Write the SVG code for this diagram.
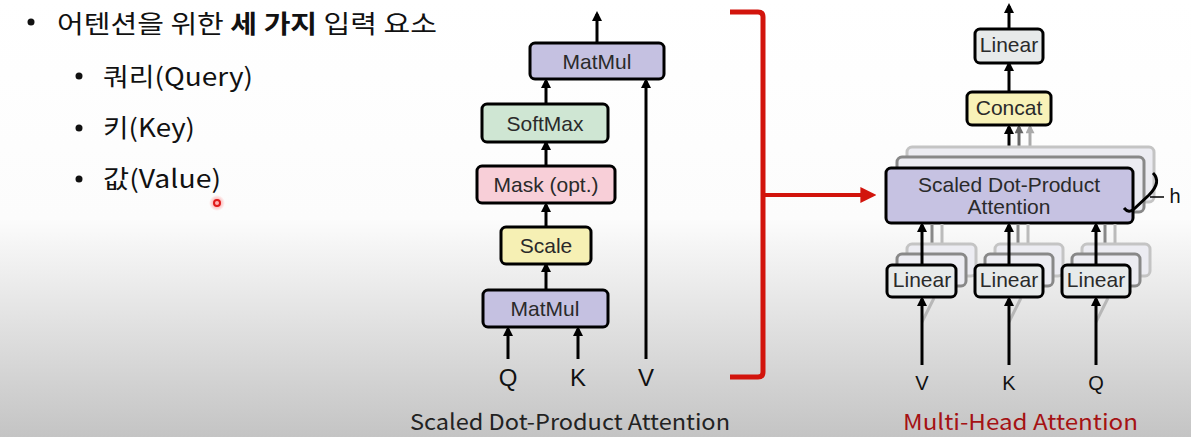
<svg xmlns="http://www.w3.org/2000/svg" width="1191" height="437" viewBox="0 0 1191 437">
<defs>
<linearGradient id="bg" x1="0" y1="0" x2="0" y2="1">
<stop offset="0" stop-color="#ffffff"/>
<stop offset="0.5" stop-color="#fcfcfc"/>
<stop offset="1" stop-color="#c4c4c4"/>
</linearGradient>
<marker id="ah" viewBox="0 0 10 10" refX="7" refY="5" markerWidth="11" markerHeight="10" markerUnits="userSpaceOnUse" orient="auto">
<path d="M0,0 L10,5 L0,10 z" fill="#000"/>
</marker>
<marker id="ahg" viewBox="0 0 10 10" refX="7" refY="5" markerWidth="10" markerHeight="9" markerUnits="userSpaceOnUse" orient="auto">
<path d="M0,0 L10,5 L0,10 z" fill="#666"/>
</marker>
<marker id="ahl" viewBox="0 0 10 10" refX="7" refY="5" markerWidth="10" markerHeight="9" markerUnits="userSpaceOnUse" orient="auto">
<path d="M0,0 L10,5 L0,10 z" fill="#aaa"/>
</marker>
<marker id="ahr" viewBox="0 0 10 10" refX="6" refY="5" markerWidth="16" markerHeight="16" markerUnits="userSpaceOnUse" orient="auto">
<path d="M0,0 L10,5 L0,10 z" fill="#d2140c"/>
</marker>
<radialGradient id="glow">
<stop offset="0" stop-color="#ff3030" stop-opacity="0.6"/>
<stop offset="1" stop-color="#ff3030" stop-opacity="0"/>
</radialGradient>
</defs>
<style>
.kr{font-family:"Noto Sans CJK KR","Noto Sans",sans-serif;fill:#111;font-size:25px}
.lb{font-family:"Liberation Sans",Arial,sans-serif;fill:#2a2a2a;font-size:21px;text-anchor:middle}
.io{font-family:"Liberation Sans",Arial,sans-serif;fill:#111;font-size:24px;text-anchor:middle}
.io2{font-family:"Liberation Sans",Arial,sans-serif;fill:#111;font-size:20px;text-anchor:middle}
.cap{font-family:"Noto Sans CJK KR","Open Sans",sans-serif;font-size:22px}
.box{stroke:#000;stroke-width:3}
.ghost{stroke-width:3;fill:#ececf2}
.ar{stroke:#000;stroke-width:3;fill:none;marker-end:url(#ah)}
</style>
<rect width="1191" height="437" fill="url(#bg)"/>

<g id="bullets">
<circle cx="31" cy="22" r="3.5" fill="#111"/>
<text class="kr" x="57" y="33" textLength="380" lengthAdjust="spacingAndGlyphs">어텐션을 위한 <tspan font-weight="bold">세 가지</tspan> 입력 요소</text>
<circle cx="79" cy="76" r="3.5" fill="#111"/>
<text class="kr" x="103" y="86" textLength="150" lengthAdjust="spacingAndGlyphs">쿼리(Query)</text>
<circle cx="79" cy="128" r="3.5" fill="#111"/>
<text class="kr" x="103" y="137" textLength="92" lengthAdjust="spacingAndGlyphs">키(Key)</text>
<circle cx="79" cy="179" r="3.5" fill="#111"/>
<text class="kr" x="103" y="188" textLength="118" lengthAdjust="spacingAndGlyphs">값(Value)</text>
</g>
<g id="cursor">
<circle cx="217" cy="203" r="8" fill="url(#glow)"/>
<circle cx="217" cy="203" r="3" fill="#ffb0b0" stroke="#e01818" stroke-width="2"/>
</g>

<g id="connectors">
<line class="ar" x1="597" y1="43" x2="597" y2="14"/>
<line class="ar" x1="546" y1="104" x2="546" y2="81"/>
<line class="ar" x1="546" y1="166" x2="546" y2="143"/>
<line class="ar" x1="546" y1="227" x2="546" y2="205"/>
<line class="ar" x1="546" y1="290" x2="546" y2="265"/>
<line class="ar" x1="508" y1="359" x2="508" y2="329"/>
<line class="ar" x1="578" y1="359" x2="578" y2="329"/>
<line class="ar" x1="646" y1="359" x2="646" y2="81"/>
<path d="M730,12 L758,12 Q763,12 763,17 L763,372 Q763,377 758,377 L730,377" fill="none" stroke="#d2140c" stroke-width="5"/>
<line x1="763" y1="195" x2="870" y2="195" stroke="#d2140c" stroke-width="4" marker-end="url(#ahr)"/>
<line class="ar" x1="1009" y1="29" x2="1009" y2="6"/>
<line class="ar" x1="1009" y1="92" x2="1009" y2="64"/>
<line x1="1030" y1="147" x2="1030" y2="127" stroke="#aaa" stroke-width="3" marker-end="url(#ahl)"/>
<line x1="1019" y1="157" x2="1019" y2="127" stroke="#666" stroke-width="3" marker-end="url(#ahg)"/>
<line class="ar" x1="1009" y1="168" x2="1009" y2="127"/>
</g>

<g id="sdpa-matmul-top">
<rect class="box" x="530" y="43" width="134" height="36" rx="5" fill="#c5c1e1"/>
<text class="lb" x="597" y="69">MatMul</text>
</g>
<g id="softmax">
<rect class="box" x="482" y="104" width="126" height="38" rx="5" fill="#cfe6d3"/>
<text class="lb" x="545" y="131">SoftMax</text>
</g>
<g id="mask">
<rect class="box" x="477" y="166" width="138" height="37" rx="5" fill="#f8cfd8"/>
<text class="lb" x="546" y="192">Mask (opt.)</text>
</g>
<g id="scale">
<rect class="box" x="501" y="227" width="90" height="37" rx="5" fill="#f6f0b4"/>
<text class="lb" x="546" y="253">Scale</text>
</g>
<g id="sdpa-matmul-bottom">
<rect class="box" x="483" y="290" width="125" height="37" rx="5" fill="#c5c1e1"/>
<text class="lb" x="545" y="316">MatMul</text>
</g>
<g id="sdpa-inputs">
<text class="io" x="508" y="386">Q</text>
<text class="io" x="578" y="386">K</text>
<text class="io" x="646" y="386">V</text>
</g>
<text class="cap" x="410" y="430" fill="#222" textLength="320" lengthAdjust="spacingAndGlyphs">Scaled Dot-Product Attention</text>

<g id="mha-linear-top">
<rect class="box" x="975" y="29" width="68" height="34" rx="5" fill="#e7eaea"/>
<text class="lb" x="1009" y="52" font-size="17.5">Linear</text>
</g>
<g id="concat">
<rect class="box" x="967" y="92" width="84" height="33" rx="5" fill="#f8f2b8"/>
<text class="lb" x="1009" y="115" font-size="18">Concat</text>
</g>

<g id="sdpa-heads">
<rect class="ghost" x="907" y="147" width="247" height="55" rx="5" stroke="#c4c4c4" fill="#eeeef4"/>
<rect class="ghost" x="897" y="157" width="247" height="55" rx="5" stroke="#888" fill="#d9d6ec"/>
<rect class="box" x="886" y="168" width="247" height="55" rx="5" fill="#c6c2e2"/>
<text class="lb" x="1009" y="192" font-size="18.5">Scaled Dot-Product</text>
<text class="lb" x="1009" y="214" font-size="18.5">Attention</text>
<path d="M1153,173 Q1162,182 1149,195 L1134,209 Q1129,214 1124,208" fill="none" stroke="#000" stroke-width="3"/>
<line x1="1150" y1="197" x2="1164" y2="197" stroke="#000" stroke-width="1.5"/>
<text class="io2" x="1175" y="203" font-size="17">h</text>
</g>

<g id="head-links">
<line x1="942" y1="245" x2="942" y2="224" stroke="#bbb" stroke-width="3"/>
<line x1="932" y1="255" x2="932" y2="224" stroke="#888" stroke-width="3"/>
<line x1="1028" y1="245" x2="1028" y2="224" stroke="#bbb" stroke-width="3"/>
<line x1="1018" y1="255" x2="1018" y2="224" stroke="#888" stroke-width="3"/>
<line x1="1115" y1="245" x2="1115" y2="224" stroke="#bbb" stroke-width="3"/>
<line x1="1105" y1="255" x2="1105" y2="224" stroke="#888" stroke-width="3"/>
<line x1="922" y1="322" x2="934" y2="298" stroke="#999" stroke-width="3" opacity="0.6"/>
<line x1="1009" y1="322" x2="1021" y2="298" stroke="#999" stroke-width="3" opacity="0.6"/>
<line x1="1096" y1="322" x2="1108" y2="298" stroke="#999" stroke-width="3" opacity="0.6"/>
</g>

<g id="linear-v">
<rect class="ghost" x="907" y="244" width="69" height="32" rx="5" stroke="#c4c4c4" fill="#f0f0f0"/>
<rect class="ghost" x="897" y="254" width="69" height="32" rx="5" stroke="#888" fill="#e6e6e6"/>
<rect class="box" x="887" y="265" width="69" height="32" rx="5" fill="#e7eaea"/>
<text class="lb" x="922" y="287" font-size="17.5">Linear</text>
</g>
<g id="linear-k">
<rect class="ghost" x="995" y="244" width="68" height="32" rx="5" stroke="#c4c4c4" fill="#f0f0f0"/>
<rect class="ghost" x="985" y="254" width="68" height="32" rx="5" stroke="#888" fill="#e6e6e6"/>
<rect class="box" x="975" y="265" width="68" height="32" rx="5" fill="#e7eaea"/>
<text class="lb" x="1009" y="287" font-size="17.5">Linear</text>
</g>
<g id="linear-q">
<rect class="ghost" x="1082" y="244" width="68" height="32" rx="5" stroke="#c4c4c4" fill="#f0f0f0"/>
<rect class="ghost" x="1072" y="254" width="68" height="32" rx="5" stroke="#888" fill="#e6e6e6"/>
<rect class="box" x="1062" y="265" width="68" height="32" rx="5" fill="#e7eaea"/>
<text class="lb" x="1096" y="287" font-size="17.5">Linear</text>
</g>

<g id="mha-connectors">
<line class="ar" x1="922" y1="265" x2="922" y2="225"/>
<line class="ar" x1="1009" y1="265" x2="1009" y2="225"/>
<line class="ar" x1="1096" y1="265" x2="1096" y2="225"/>
<line class="ar" x1="922" y1="365" x2="922" y2="299"/>
<line class="ar" x1="1009" y1="365" x2="1009" y2="299"/>
<line class="ar" x1="1096" y1="365" x2="1096" y2="299"/>
</g>
<g id="mha-inputs">
<text class="io2" x="922" y="390">V</text>
<text class="io2" x="1009" y="390">K</text>
<text class="io2" x="1096" y="390">Q</text>
</g>
<text class="cap" x="903" y="430" fill="#a51214" textLength="235" lengthAdjust="spacingAndGlyphs">Multi-Head Attention</text>
</svg>
